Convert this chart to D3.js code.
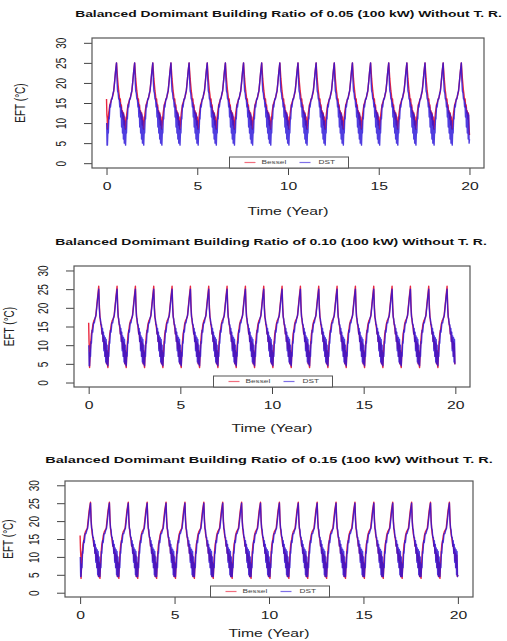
<!DOCTYPE html>
<html>
<head>
<meta charset="utf-8">
<script src="https://cdn.jsdelivr.net/npm/d3@7"></script>
<style>
  body { margin: 0; background: #fff; }
  svg { display: block; font-family: "Liberation Sans", Arial, sans-serif; }
</style>
</head>
<body>
<script>

// ---- data ----
var titles = [
    "Balanced Domimant Building Ratio of 0.05 (100 kW) Without T. R.",
    "Balanced Domimant Building Ratio of 0.10 (100 kW) Without T. R.",
    "Balanced Domimant Building Ratio of 0.15 (100 kW) Without T. R."
]
var xTicks = [0, 5, 10, 15, 20]
var yTicks = [0, 5, 10, 15, 20, 25, 30]
var seriesNames = ["Bessel", "DST"]
var years = d3.range(0, 20)

// one yearly cycle, [fraction of year, EFT]
var besselCycle1 = [[0.05,8.5],[0.08,10.5],[0.12,12.5],[0.18,14.5],[0.25,15.5],[0.32,16.5],[0.38,17.5],[0.44,20],[0.50,23],[0.55,25],
    [0.58,23],[0.61,21],[0.64,19.5],[0.67,18],[0.70,17],[0.73,15.5],[0.76,16],[0.79,14],[0.82,14.5],[0.85,12.5],
    [0.88,13],[0.91,11],[0.94,12.5],[0.97,9.5],[1.00,11.5],[1.03,8.5]]
var dstCycle1 = [[0.05,4.5],[0.08,8.5],[0.10,7.5],[0.13,11.5],[0.15,11],[0.19,14.5],[0.22,14],[0.27,16],[0.31,16],[0.36,17.5],
    [0.40,18],[0.44,20],[0.49,22.5],[0.55,25],[0.58,20.5],[0.61,18],[0.64,17.5],[0.67,16],[0.70,16],[0.73,14],
    [0.755,15],[0.78,11.5],[0.805,14],[0.83,9],[0.855,13],[0.88,7.5],[0.905,12.5],[0.93,6],[0.955,12],[0.98,5],
    [1.005,10.5],[1.03,5.5]]
var besselStart1 = [[0,16],[0.02,12],[0.04,11]]
var dstStart1 = [[0.01,10],[0.03,4.5]]
var besselEnd1 = [[20,7]]
var dstEnd1 = [[20,6]]

var besselCycle2 = [[0.05,4],[0.08,8],[0.11,10.5],[0.15,13],[0.19,14],[0.23,15.5],[0.28,16.5],[0.33,17],[0.38,17.5],[0.43,20],
    [0.48,22.5],[0.55,25.8],[0.58,21],[0.61,18],[0.64,16.5],[0.67,15.5],[0.70,14.5],[0.73,13],[0.76,13.5],[0.79,11],
    [0.82,12],[0.85,9],[0.88,11],[0.91,7],[0.94,10.5],[0.97,5],[1.00,8.5],[1.03,4.5]]
var dstCycle2 = [[0.05,4.5],[0.08,8],[0.10,7],[0.13,11],[0.15,10.5],[0.19,14],[0.22,13.5],[0.27,16],[0.31,16],[0.36,17.5],
    [0.40,18],[0.44,20],[0.49,22.5],[0.55,25],[0.58,20],[0.61,17.5],[0.64,17],[0.67,15.5],[0.70,15.5],[0.73,13],
    [0.755,14.5],[0.78,11],[0.805,13.5],[0.83,8.5],[0.855,12.5],[0.88,7],[0.905,12],[0.93,5.5],[0.955,11.5],[0.98,5],
    [1.005,10],[1.03,5]]
var besselStart2 = [[0,16],[0.02,11],[0.04,9]]
var dstStart2 = [[0.01,10],[0.03,4.5]]
var besselEnd2 = [[20,5]]
var dstEnd2 = [[20,5]]

var besselCycle3 = [[0.05,4],[0.08,8],[0.11,11],[0.15,13.5],[0.19,14.5],[0.23,16],[0.28,17],[0.33,17.5],[0.38,18],[0.43,20.5],
    [0.48,23],[0.55,25.3],[0.58,21],[0.61,18],[0.64,16.5],[0.67,15.5],[0.70,14.5],[0.73,13],[0.76,13.5],[0.79,11],
    [0.82,12],[0.85,9],[0.88,11],[0.91,7],[0.94,10.5],[0.97,4.5],[1.00,8.5],[1.03,4.5]]
var dstCycle3 = [[0.05,4.5],[0.08,8],[0.10,7],[0.13,11.5],[0.15,11],[0.19,14.5],[0.22,14],[0.27,16.5],[0.31,16.5],[0.36,17.5],
    [0.40,18],[0.44,20],[0.49,22.5],[0.55,25],[0.58,20],[0.61,18],[0.64,17.5],[0.67,15.5],[0.70,15.5],[0.73,13],
    [0.755,14.5],[0.78,11],[0.805,13.5],[0.83,8.5],[0.855,12.5],[0.88,7],[0.905,12],[0.93,5],[0.955,11.5],[0.98,4.5],
    [1.005,10],[1.03,5]]
var besselStart3 = [[0,16],[0.02,12],[0.04,10]]
var dstStart3 = [[0.01,10],[0.03,4.5]]
var besselEnd3 = [[20,5]]
var dstEnd3 = [[20,5]]

var panelData = [
    { bessel: [besselStart1, besselCycle1, besselEnd1], dst: [dstStart1, dstCycle1, dstEnd1] },
    { bessel: [besselStart2, besselCycle2, besselEnd2], dst: [dstStart2, dstCycle2, dstEnd2] },
    { bessel: [besselStart3, besselCycle3, besselEnd3], dst: [dstStart3, dstCycle3, dstEnd3] }
]

// ---- layout ----
var colors = ["#e8102a", "#2a12d8"]
var stretch = 1.5   // the original figure was squashed, text looks wide

var layouts = [
    { box: [92, 38, 484, 168], title: [288.5, 14, 427], xlabY: 211, ylabX: 20 },
    { box: [74, 266, 470, 387], title: [271, 242, 432], xlabY: 428, ylabX: 9 },
    { box: [65, 481, 473, 597], title: [269, 460, 448], xlabY: 633, ylabX: 8 }
]

var svg = d3.select("body").append("svg")
    .attr("width", 507)
    .attr("height", 641)

function buildSeries(parts) {
    var start = parts[0], cycle = parts[1], end = parts[2]
    var lastStart = start[start.length - 1][0]
    var pts = start.map(p => ({ t: p[0], v: p[1] }))
    years.forEach(function(y) {
        cycle.forEach(function(p) {
            if (y == 0 && p[0] <= lastStart) return
            var t = y + p[0]
            if (t < 20) pts.push({ t: t, v: p[1] })
        })
    })
    end.forEach(p => pts.push({ t: p[0], v: p[1] }))
    return pts
}

function fitText(sel, cx, cy, width) {
    var w = sel.node().getComputedTextLength()
    sel.attr("transform", "translate(" + cx + "," + cy + ") scale(" + (width / w) + ",1)")
}

function drawPanel(i) {
    var L = layouts[i]
    var x0 = L.box[0], y0 = L.box[1], x1 = L.box[2], y1 = L.box[3]
    var g = svg.append("g")

    // R style 4% padding
    var xScale = d3.scaleLinear().domain([-0.8, 20.8]).range([x0, x1])
    var yScale = d3.scaleLinear().domain([-1.2, 31.2]).range([y1, y0])

    var line = d3.line()
        .x(d => xScale(d.t))
        .y(d => yScale(d.v))

    g.append("path")
        .attr("d", line(buildSeries(panelData[i].bessel)))
        .attr("fill", "none")
        .attr("stroke", colors[0])
        .attr("stroke-width", 1.4)
        .attr("stroke-linejoin", "round")
        .attr("opacity", 0.9)

    g.append("path")
        .attr("d", line(buildSeries(panelData[i].dst)))
        .attr("fill", "none")
        .attr("stroke", colors[1])
        .attr("stroke-width", 1.4)
        .attr("stroke-linejoin", "round")
        .attr("opacity", 0.82)

    // axes
    var xAxis = d3.axisBottom(xScale).tickValues(xTicks).tickSize(7).tickSizeOuter(0)
    var yAxis = d3.axisLeft(yScale).tickValues(yTicks).tickSize(8).tickSizeOuter(0)

    var gx = g.append("g")
        .attr("transform", "translate(0," + y1 + ")")
        .call(xAxis)
    gx.select(".domain").remove()
    gx.selectAll("line").attr("stroke", "#444")
    gx.selectAll("text")
        .attr("y", null).attr("dy", "0.35em")
        .attr("transform", "translate(0,18) scale(" + stretch + ",1)")
        .attr("font-size", 10.5).attr("fill", "#222")
        .attr("font-family", "Liberation Sans, Arial, sans-serif")

    var gy = g.append("g")
        .attr("transform", "translate(" + x0 + ",0)")
        .call(yAxis)
    gy.select(".domain").remove()
    gy.selectAll("line").attr("stroke", "#444")
    gy.selectAll("text")
        .attr("x", null).attr("dy", "0.36em")
        .attr("text-anchor", "middle")
        .attr("transform", "translate(-31,0) scale(" + stretch + ",1) rotate(-90)")
        .attr("font-size", 10).attr("fill", "#222")
        .attr("font-family", "Liberation Sans, Arial, sans-serif")

    // box
    g.append("rect")
        .attr("x", x0).attr("y", y0)
        .attr("width", x1 - x0).attr("height", y1 - y0)
        .attr("fill", "none")
        .attr("stroke", "#555")
        .attr("stroke-width", 1.2)

    // title
    var t = g.append("text")
        .attr("text-anchor", "middle")
        .attr("dy", "0.35em")
        .attr("font-size", 8.5)
        .attr("font-weight", "bold")
        .attr("fill", "#111")
        .text(titles[i])
    fitText(t, L.title[0], L.title[1], L.title[2])

    // axis labels
    var cx = (x0 + x1) / 2
    g.append("text")
        .attr("text-anchor", "middle")
        .attr("dy", "0.35em")
        .attr("font-size", 10.5)
        .attr("fill", "#222")
        .attr("transform", "translate(" + cx + "," + L.xlabY + ") scale(" + stretch + ",1)")
        .text("Time (Year)")

    g.append("text")
        .attr("text-anchor", "middle")
        .attr("dy", "0.35em")
        .attr("font-size", 10)
        .attr("fill", "#222")
        .attr("transform", "translate(" + L.ylabX + "," + ((y0 + y1) / 2) + ") scale(" + stretch + ",1) rotate(-90)")
        .text("EFT (°C)")

    // legend, bottom centre of the box
    var lw = 119, lh = 11
    var lx = Math.round(cx - lw / 2) + 0.5, ly = y1 - lh
    var lg = g.append("g").attr("transform", "translate(" + lx + "," + ly + ")")
    lg.append("rect")
        .attr("width", lw).attr("height", lh)
        .attr("fill", "white")
        .attr("stroke", "#555")
        .attr("stroke-width", 1)
    var items = [[15, 32], [70, 89]]
    seriesNames.forEach(function(name, k) {
        lg.append("line")
            .attr("x1", items[k][0]).attr("x2", items[k][0] + 11)
            .attr("y1", 5.5).attr("y2", 5.5)
            .attr("stroke", colors[k])
            .attr("stroke-width", 1.2)
            .attr("opacity", 0.6)
        lg.append("text")
            .attr("dy", "0.35em")
            .attr("font-size", 5.5)
            .attr("fill", "#444")
            .attr("transform", "translate(" + items[k][1] + ",5.5) scale(" + stretch + ",1)")
            .text(name)
    })
}

layouts.forEach(function(l, i) { drawPanel(i) })

</script>
</body>
</html>
